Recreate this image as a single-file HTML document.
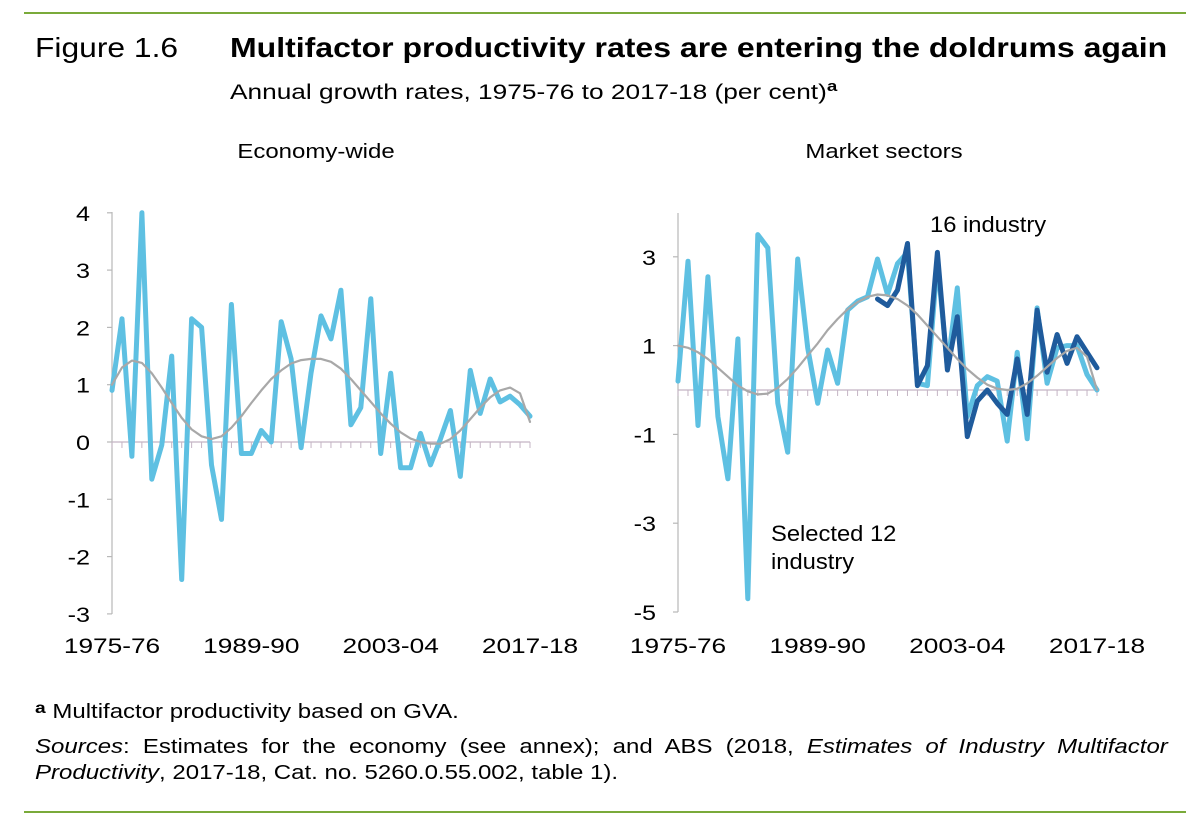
<!DOCTYPE html>
<html><head><meta charset="utf-8"><style>
html,body{margin:0;padding:0;background:#fff}
body{width:1198px;height:824px;position:relative;overflow:hidden;font-family:"Liberation Sans",Arial,sans-serif;color:#000}
.abs{position:absolute;white-space:nowrap;transform-origin:0 0}
</style></head><body>
<div class="abs" style="left:24px;top:12px;width:1162px;height:2px;background:#7aaa3a"></div>
<div class="abs" style="left:35px;top:32px;font-size:28px;transform:scaleX(1.135)">Figure 1.6</div>
<div class="abs" style="left:230px;top:32px;font-size:28px;font-weight:bold;transform:scaleX(1.143)">Multifactor productivity rates are entering the doldrums again</div>
<div class="abs" style="left:230px;top:78px;font-size:21px;transform:scaleX(1.25)">Annual growth rates, 1975-76 to 2017-18 (per cent)<sup style="font-weight:bold;font-size:15px">a</sup></div>
<svg class="abs" style="left:0;top:0" width="1198" height="824" id="svg"></svg>
<div class="abs" style="left:35px;top:700px;font-size:20px;transform:scaleX(1.2)"><b style="font-size:16px;vertical-align:5px">a</b> Multifactor productivity based on GVA.</div>
<div class="abs" style="left:35px;top:736px;font-size:20px;width:944px;white-space:normal;text-align:justify;text-align-last:justify;transform:scaleX(1.2)"><i>Sources</i>: Estimates for the economy (see annex); and ABS (2018, <i>Estimates of Industry Multifactor</i></div>
<div class="abs" style="left:35px;top:762px;font-size:20px;transform:scaleX(1.2)"><i>Productivity</i>, 2017-18, Cat. no. 5260.0.55.002, table 1).</div>
<div class="abs" style="left:24px;top:811px;width:1162px;height:2px;background:#7aaa3a"></div>
<script>
const years = ["1975-76","1989-90","2003-04","2017-18"];
const leftTicks = [4,3,2,1,0,-1,-2,-3];
const rightTicks = [3,1,-1,-3,-5];
const economyWide = [0.9,2.15,-0.25,4.0,-0.65,-0.05,1.5,-2.4,2.15,2.0,-0.4,-1.35,2.4,-0.2,-0.2,0.2,0.0,2.1,1.45,-0.1,1.2,2.2,1.8,2.65,0.3,0.6,2.5,-0.2,1.2,-0.45,-0.45,0.15,-0.4,0.05,0.55,-0.6,1.25,0.5,1.1,0.7,0.8,0.65,0.45];
const economyTrend = [1.0,1.3,1.42,1.38,1.2,0.95,0.68,0.42,0.22,0.1,0.05,0.1,0.25,0.45,0.68,0.9,1.1,1.25,1.37,1.43,1.45,1.45,1.4,1.28,1.1,0.9,0.7,0.5,0.32,0.17,0.06,0.0,-0.03,-0.03,0.05,0.2,0.4,0.6,0.78,0.9,0.95,0.85,0.35];
const selected12 = [0.2,2.9,-0.8,2.55,-0.6,-2.0,1.15,-4.7,3.5,3.2,-0.3,-1.4,2.95,0.95,-0.3,0.9,0.15,1.8,2.0,2.1,2.95,2.15,2.85,3.1,0.15,0.1,2.9,0.5,2.3,-0.6,0.1,0.3,0.2,-1.15,0.85,-1.1,1.85,0.15,0.95,1.0,1.0,0.35,0.0];
const industry16 = [null,null,null,null,null,null,null,null,null,null,null,null,null,null,null,null,null,null,null,null,2.05,1.9,2.25,3.3,0.1,0.55,3.1,0.45,1.65,-1.05,-0.25,0.0,-0.3,-0.55,0.7,-0.55,1.8,0.4,1.25,0.6,1.2,0.85,0.5];
const marketTrend = [1.0,0.95,0.85,0.7,0.5,0.3,0.1,-0.03,-0.1,-0.08,0.05,0.25,0.5,0.78,1.05,1.35,1.6,1.82,1.98,2.1,2.15,2.13,2.05,1.9,1.7,1.45,1.2,0.95,0.7,0.47,0.28,0.12,0.03,0.0,0.03,0.15,0.32,0.52,0.72,0.88,0.95,0.75,0.0];

const svg = document.getElementById('svg');
const NS = 'http://www.w3.org/2000/svg';
function mk(tag, attrs, parent){const e=document.createElementNS(NS,tag);for(const k in attrs)e.setAttribute(k,attrs[k]);(parent||svg).appendChild(e);return e;}
function txt(x,y,size,anchor,sx,str,parent){
  const t = mk('text',{x:0,y:0,'font-size':size,'text-anchor':anchor,transform:'translate('+x+','+y+') scale('+sx+',1)'},parent);
  t.textContent = str;
  return t;
}

function panel(cfg){
  const n = cfg.series[0].values.length;
  const xs = i => cfg.x0 + i*(cfg.x1-cfg.x0)/(n-1);
  const ys = v => cfg.y0 - v*cfg.ppu;
  const g = mk('g',{});
  
  
  const t = txt(cfg.titleX,158,20,'middle',1.2,cfg.title,g);
  
  
  const ya = mk('line',{x1:cfg.x0,x2:cfg.x0,y1:cfg.axTop,y2:cfg.axBot,stroke:'#b8b8b8','stroke-width':1.2},g);
  
  
  cfg.ticks.forEach(v=>{
    mk('line',{x1:cfg.x0-5,x2:cfg.x0,y1:ys(v),y2:ys(v),stroke:'#b8b8b8','stroke-width':1.2},g);
    const tl = txt(cfg.x0-22,ys(v)+8,21,'end',1.2,String(v),g);
    
    
  });
  const xa = mk('line',{x1:cfg.x0,x2:cfg.x1,y1:ys(0),y2:ys(0),stroke:'#c4b4c4','stroke-width':1.2},g);
  
  
  for(let i=0;i<n;i++) mk('line',{x1:xs(i),x2:xs(i),y1:ys(0),y2:ys(0)+6,stroke:'#c4b4c4','stroke-width':1},g);
  years.forEach((y,k)=>{
    const tl = txt(xs(k*14),653,21,'middle',1.25,y,g);
    
    
  });
  cfg.series.forEach(s=>{
    let d='';let pen=false;
    s.values.forEach((v,i)=>{ if(v===null){pen=false;return;} d+=(pen?'L':'M')+xs(i).toFixed(1)+','+ys(v).toFixed(1); pen=true; });
    const p = mk('path',{d:d,fill:'none',stroke:s.color,'stroke-width':s.w,'stroke-linejoin':'round','stroke-linecap':'round'},g);
    
    
  });
  return g;
}

panel({name:'economy-wide-chart',title:'Economy-wide',titleX:316,x0:112,x1:530,y0:442,ppu:57.3,axTop:212,axBot:614,ticks:leftTicks,
  series:[{name:'economy-wide-line',values:economyWide,color:'#5ec0e2',w:5},{name:'economy-trend-line',values:economyTrend,color:'#a8a8a8',w:2.2}]});
panel({name:'market-sectors-chart',title:'Market sectors',titleX:884,x0:678,x1:1097,y0:390,ppu:44.4,axTop:213,axBot:612,ticks:rightTicks,
  series:[{name:'selected-12-industry-line',values:selected12,color:'#5ec0e2',w:5},{name:'16-industry-line',values:industry16,color:'#1f5b9c',w:5},{name:'market-trend-line',values:marketTrend,color:'#a8a8a8',w:2.2}]});

const l1 = txt(930,232,22,'start',1.08,'16 industry');


const l2 = txt(771,541,22,'start',1.08,'Selected 12');


const l3 = txt(771,569,22,'start',1.08,'industry');


</script>
</body></html>
